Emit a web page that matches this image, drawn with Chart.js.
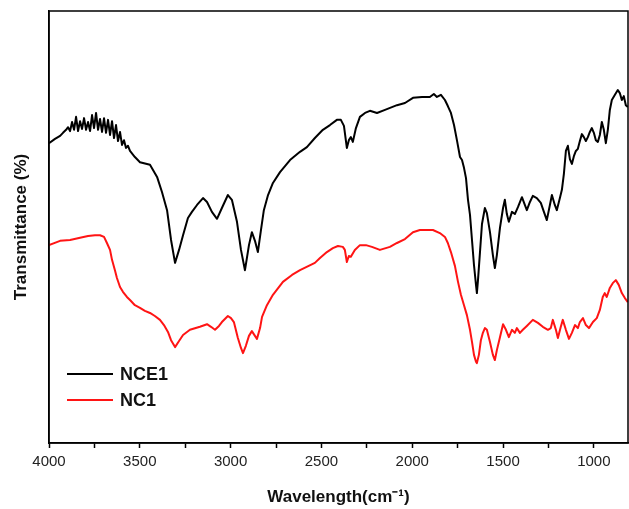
<!DOCTYPE html>
<html>
<head>
<meta charset="utf-8">
<script src="https://cdn.jsdelivr.net/npm/chart.js@4/dist/chart.umd.min.js"></script>
<style>
  body { margin: 0; background: #fff; }
  canvas { display: block; }
</style>
</head>
<body>
<canvas id="graficaIR" width="629" height="509"></canvas>
<script>
// Datos del espectro (numero de onda en cm-1, transmitancia en unidades arbitrarias)
var seriesNames = ['NCE1', 'NC1'];
var seriesColors = ['#000000', '#ff1414'];

var nce1Wn = [4000, 3967, 3939, 3923, 3906, 3895, 3884, 3873, 3862, 3851, 3840, 3829, 3818, 3807, 3796, 3785,
  3774, 3763, 3752, 3741, 3730, 3719, 3708, 3697, 3686, 3675, 3664, 3653, 3642, 3631, 3620, 3609, 3598, 3587,
  3576, 3565, 3554, 3527, 3499, 3444, 3405, 3378, 3350, 3328, 3306, 3284,
  3262, 3235, 3213, 3185, 3152, 3130, 3103, 3075, 3048, 3015, 2993, 2965, 2943, 2921, 2899, 2883, 2866, 2850,
  2833, 2817, 2794, 2767, 2728, 2673, 2618, 2580, 2536, 2492, 2453, 2415, 2393, 2376, 2360, 2349, 2338, 2327,
  2310, 2288, 2260, 2233, 2194, 2150, 2084, 2040, 1996, 1946, 1903, 1881, 1864, 1842, 1820, 1804, 1787, 1770,
  1754, 1737, 1726, 1715, 1704, 1693, 1682, 1671, 1660, 1649, 1644, 1638, 1627, 1616, 1600, 1589, 1572, 1556,
  1545, 1534, 1517, 1500, 1490, 1479, 1468, 1451, 1435, 1418, 1396, 1380, 1369, 1352, 1336, 1314, 1292, 1275,
  1259, 1242, 1231, 1215, 1204, 1187, 1176, 1165, 1154, 1143, 1132, 1121, 1110, 1099, 1088, 1077, 1066, 1055,
  1044, 1033, 1022, 1011, 1000, 989, 978, 967, 956, 945, 934, 923, 912, 901, 884, 868, 857, 846, 835, 824, 813];
var nce1T = [69.4, 70.4, 71.1, 71.8, 72.5, 73.1, 72.2, 74.3, 72.5, 75.5, 72.2, 74.5, 72.7, 75.2, 72.5, 74.3,
  72.2, 75.9, 72.9, 76.4, 72.5, 75.0, 72.0, 75.2, 71.8, 74.8, 71.3, 74.5, 70.6, 73.6, 69.9, 72.0, 69.0, 70.1,
  68.3, 68.8, 67.6, 66.2, 65.0, 64.4, 61.6, 58.1, 53.9, 47.0, 41.7, 44.7,
  48.1, 52.1, 53.5, 55.1, 56.7, 55.8, 53.5, 51.9, 54.4, 57.4, 56.3, 51.2, 44.7, 40.0, 45.8, 48.8, 46.8, 44.2,
  49.3, 53.9, 57.4, 60.2, 62.7, 65.5, 67.4, 68.5, 70.6, 72.5, 73.6, 74.8, 74.8, 73.4, 68.3, 70.1, 70.8, 69.7,
  72.9, 75.5, 76.4, 76.9, 76.4, 77.1, 78.2, 78.7, 79.9, 80.1, 80.1, 80.8, 80.1, 80.6, 79.4, 78.0, 76.4, 73.6,
  70.1, 66.2, 65.5, 63.7, 61.3, 56.3, 52.8, 47.0, 41.2, 36.6, 34.7, 37.7, 44.2, 50.7, 54.4, 53.2, 48.8, 43.5,
  40.5, 43.5, 49.8, 54.4, 56.3, 53.0, 51.2, 53.5, 53.0, 54.6, 56.9, 55.1, 53.9, 55.8, 57.2, 56.7, 55.6, 53.5,
  51.6, 55.1, 57.4, 55.1, 53.9, 56.7, 58.6, 62.3, 67.6, 68.8, 65.7, 64.6, 66.4, 67.6, 68.1, 69.9, 71.5, 70.8,
  69.9, 70.8, 72.0, 72.9, 71.8, 70.1, 69.7, 71.3, 74.3, 72.5, 69.4, 72.5, 77.1, 79.4, 80.6, 81.7, 81.0, 79.4, 80.3, 78.2, 77.8];

var nc1Wn = [4000, 3939, 3884, 3829, 3785, 3747, 3719, 3697, 3681, 3664, 3653, 3637, 3626, 3609, 3593, 3571,
  3554, 3527, 3499, 3472, 3444, 3417, 3389, 3367, 3345, 3328, 3306, 3284, 3262, 3224, 3169, 3130, 3108, 3086,
  3064, 3048, 3015, 2998, 2982, 2960, 2943, 2932, 2916, 2899, 2883, 2866, 2855, 2838, 2827, 2800, 2767, 2712,
  2662, 2618, 2536, 2508, 2470, 2437, 2409, 2382, 2371, 2360, 2349, 2338, 2316, 2288, 2255, 2222, 2178, 2123,
  2084, 2040, 1996, 1958, 1919, 1886, 1848, 1820, 1804, 1787, 1765, 1748, 1732, 1715, 1699, 1682, 1671, 1660,
  1649, 1644, 1633, 1622, 1611, 1600, 1589, 1572, 1556, 1545, 1534, 1517, 1500, 1484, 1468, 1451, 1435, 1424,
  1407, 1391, 1369, 1336, 1308, 1281, 1253, 1237, 1226, 1209, 1198, 1182, 1171, 1154, 1137, 1121, 1104, 1088,
  1077, 1060, 1044, 1027, 1005, 984, 967, 951, 940, 929, 912, 896, 879, 863, 846, 830, 813];
var nc1T = [45.8, 46.8, 47.0, 47.5, 47.9, 48.1, 48.1, 47.7, 46.3, 44.7, 42.4, 40.0, 38.2, 36.1, 35.0, 33.8,
  33.1, 31.9, 31.3, 30.6, 30.1, 29.4, 28.5, 27.3, 25.7, 23.8, 22.2, 23.6, 25.0, 26.2, 26.9, 27.5, 26.9, 26.2,
  27.1, 28.0, 29.4, 28.9, 28.0, 24.3, 22.0, 20.8, 22.5, 24.8, 25.9, 24.8, 24.1, 26.6, 29.2, 31.9, 34.3, 37.3,
  38.9, 40.0, 41.7, 42.8, 44.2, 45.1, 45.6, 45.4, 44.7, 41.9, 43.3, 43.1, 44.7, 45.8, 45.8, 45.4, 44.7, 45.4,
  46.3, 47.2, 48.8, 49.3, 49.3, 49.3, 48.6, 47.7, 46.3, 44.2, 41.0, 37.3, 34.3, 31.9, 29.6, 26.2, 23.4, 20.4,
  18.8, 18.5, 20.4, 23.8, 25.5, 26.6, 26.2, 23.4, 20.4, 19.2, 21.5, 24.5, 27.5, 26.2, 24.5, 26.2, 25.5, 26.6,
  25.5, 26.2, 27.1, 28.5, 27.8, 26.9, 26.2, 26.6, 28.5, 26.2, 24.3, 26.9, 28.5, 26.2, 24.1, 25.5, 27.3, 26.6,
  28.0, 28.9, 27.3, 26.6, 28.0, 28.9, 30.8, 33.8, 34.7, 33.8, 35.9, 37.0, 37.7, 36.6, 34.7, 33.6, 32.6];

var xTicks = [4000, 3750, 3500, 3250, 3000, 2750, 2500, 2250, 2000, 1750, 1500, 1250, 1000];
var xMin = 812, xMax = 4000;

function puntos(xs, ys) {
    var res = [];
    for (var i = 0; i < xs.length; i++) {
        res.push({ x: xs[i], y: ys[i] });
    }
    return res;
}

var fuente = 'Arial, "Liberation Sans", sans-serif';

// Marco completo alrededor del area de la grafica + leyenda interna
var marcoYLeyenda = {
    id: 'marcoYLeyenda',
    afterDraw: function (chart) {
        var ctx = chart.ctx;
        var a = chart.chartArea;
        ctx.save();
        ctx.strokeStyle = '#000';
        ctx.lineWidth = 1.5;
        ctx.strokeRect(a.left, a.top, a.right - a.left, a.bottom - a.top);

        ctx.font = 'bold 18px ' + fuente;
        ctx.textBaseline = 'middle';
        ctx.textAlign = 'left';
        for (var i = 0; i < chart.data.datasets.length; i++) {
            var ds = chart.data.datasets[i];
            var y = a.top + 363 + i * 26;
            ctx.strokeStyle = ds.borderColor;
            ctx.lineWidth = 2;
            ctx.beginPath();
            ctx.moveTo(a.left + 18, y);
            ctx.lineTo(a.left + 64, y);
            ctx.stroke();
            ctx.fillStyle = '#111';
            ctx.fillText(ds.label, a.left + 71, y + 1);
        }
        ctx.restore();
    }
};

var ctx = document.getElementById('graficaIR').getContext('2d');
var graficaIR = new Chart(ctx, {
    type: 'line',
    data: {
        datasets: [{
            label: seriesNames[0],
            data: puntos(nce1Wn, nce1T),
            borderColor: seriesColors[0],
            borderWidth: 2
        }, {
            label: seriesNames[1],
            data: puntos(nc1Wn, nc1T),
            borderColor: seriesColors[1],
            borderWidth: 2
        }]
    },
    options: {
        responsive: false,
        animation: false,
        layout: { padding: { top: 11, right: 1, left: 0, bottom: 0 } },
        elements: {
            point: { radius: 0 },
            line: { tension: 0, borderJoinStyle: 'round' }
        },
        plugins: {
            legend: { display: false },
            tooltip: { enabled: false }
        },
        scales: {
            x: {
                type: 'linear',
                reverse: true,
                min: xMin,
                max: xMax,
                afterBuildTicks: function (scale) {
                    scale.ticks = xTicks.map(function (v) { return { value: v }; });
                },
                afterFit: function (scale) { scale.height = 66; },
                ticks: {
                    autoSkip: false,
                    maxRotation: 0,
                    padding: 5,
                    color: '#222',
                    font: { family: fuente, size: 15 },
                    callback: function (v) { return v % 500 === 0 ? String(v) : ''; }
                },
                grid: { drawOnChartArea: false, tickLength: 5, tickColor: '#000', tickWidth: 1.5 },
                border: { color: '#000', width: 1.5 },
                title: {
                    display: true,
                    text: 'Wavelength(cm\u207B\u00B9)',
                    color: '#111',
                    font: { family: fuente, size: 17, weight: 'bold' },
                    padding: { top: 0, bottom: 1 }
                }
            },
            y: {
                min: 0,
                max: 100,
                afterFit: function (scale) { scale.width = 49; },
                ticks: { display: false },
                grid: { drawOnChartArea: false, drawTicks: false },
                border: { color: '#000', width: 1.5 },
                title: {
                    display: true,
                    text: 'Transmittance (%)',
                    color: '#111',
                    font: { family: fuente, size: 17, weight: 'bold' },
                    padding: { top: 11, bottom: 0 }
                }
            }
        }
    },
    plugins: [marcoYLeyenda]
});
</script>
</body>
</html>
